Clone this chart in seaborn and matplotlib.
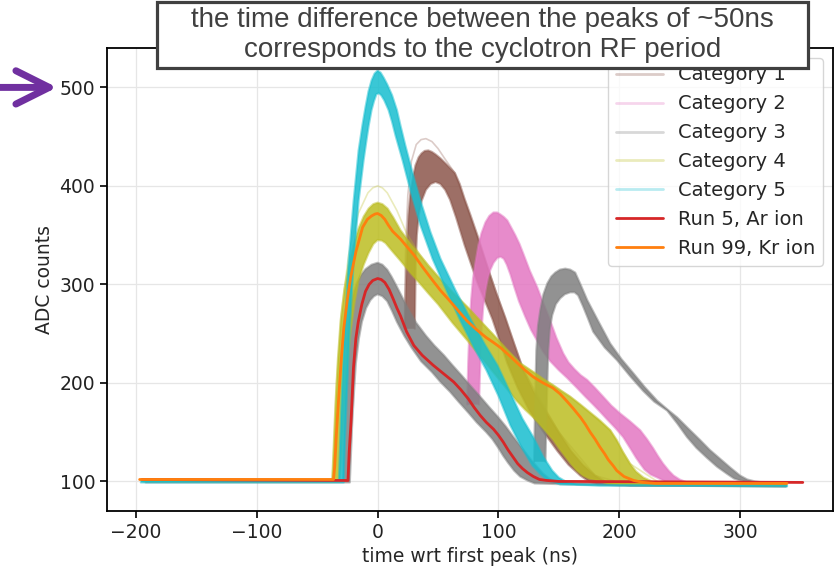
import numpy as np
import matplotlib
matplotlib.use("Agg")
import matplotlib.pyplot as plt
from matplotlib.patches import Rectangle
from matplotlib.lines import Line2D
import seaborn as sns

# ---------------------------------------------------------------
# Waveform bundles: each category is a band of many traces, given
# by its upper/outer and lower/inner envelope (time in ns wrt the
# first peak, amplitude in ADC counts). Later buckets are recorded
# from partway up their rising edge.
# ---------------------------------------------------------------
cat1_hi_t = [22.6, 23.1, 24.3, 25.5, 27.3, 29.5, 31.4, 34, 36.4, 39, 42, 45, 48, 52, 57, 64,
             68, 72, 77, 82.6, 90.9, 98, 105.8, 113, 120.7, 129, 138.8, 150, 160.3, 170,
             180, 190, 200, 209, 338]
cat1_hi = [255, 284, 340, 370, 395, 410, 421, 429, 433, 435.5, 436, 434.5, 432, 428, 422, 413,
           402, 387, 370, 350, 318, 292, 266, 240, 213, 192, 172, 150, 131, 117,
           106, 99, 97, 96, 96]
cat1_lo_t = [30.8, 31, 31.5, 32.5, 34, 36.5, 40, 44, 48, 52, 56, 60, 65, 72, 82.6, 95, 107.4,
             116, 125.6, 137, 148.8, 158, 167.8, 175, 182, 200, 338]
cat1_lo = [255, 270, 320, 350, 370, 385, 396, 402, 404, 402, 396, 386, 368, 340, 302, 265, 220,
           195, 172, 151, 131, 117, 106, 100, 97, 96, 95]
# a single high-amplitude category-1 trace above the bundle
cat1_outlier_t = [22.2, 23, 25, 28, 32, 36, 40, 45, 50, 56, 64, 90.9, 120.7, 150, 180, 209, 338]
cat1_outlier = [255, 330, 390, 425, 442, 447, 448, 445, 438, 427, 413, 318, 213, 150, 106, 96, 96]

cat2_hi_t = [74.2, 75, 76, 77.5, 79, 81, 83.5, 86, 89.3, 92.5, 95.9, 99, 101.7, 104.5, 107.4,
             110.5, 114, 117.5, 120.7, 126, 132.2, 137.5, 143, 148, 153.7, 158, 163, 168,
             173.6, 180, 186.8, 193.5, 200.8, 209, 217.4, 223, 228, 232, 236.4, 241, 245,
             250, 256, 267, 338]
cat2_hi = [178, 220, 253, 285, 306, 322, 340, 352, 363, 369.5, 373, 373, 371, 368.5, 365,
           358, 350, 341, 331, 314, 297, 280, 263, 246, 230, 221, 214, 208,
           203, 195, 186, 177, 169, 161, 152, 143, 134, 126, 118, 111, 106,
           102, 99, 97, 96]
cat2_lo_t = [84, 84.5, 85.3, 86, 87.5, 89.3, 91.2, 93.4, 96, 99.2, 102, 104.5, 107, 110, 113,
             117, 122, 127, 132, 137, 143, 150, 157, 165, 172, 178.5, 184, 190, 197, 203.3,
             210, 214, 217.4, 221, 226, 231.4, 238, 246, 338]
cat2_lo = [178, 200, 230, 253, 278, 294, 306, 315, 322, 327, 328, 326, 320, 310, 298,
           283, 268, 254, 243, 232, 222, 213, 205, 195, 186, 178, 171, 163, 154, 145,
           132, 124, 118, 112, 107, 104, 100, 98, 97]

# category 3 shows up in two time buckets
cat3a_hi_t = [-192, -28.8, -28, -27, -25, -23.5, -22, -19.5, -17, -13.5, -10, -5, 0, 4, 8,
              11.5, 15, 20, 25, 32, 40, 47, 55, 62, 70, 77, 85, 92, 100, 106, 112, 117,
              122, 127, 132, 137, 142, 147, 152, 165, 338]
cat3a_hi = [101, 101, 140, 180, 240, 265, 280, 293, 302, 310, 315.5, 320, 322, 320, 315,
            308, 300, 288, 276, 261, 248, 238, 228, 218, 207, 197, 186, 176, 165, 156, 146, 138,
            130, 122, 115, 108, 103, 100, 99, 98, 97]
cat3a_lo_t = [-192, -23, -22, -21, -19.5, -18, -15.5, -13, -9.5, -6, -3, 0, 4, 8, 12, 16,
              22, 28, 36, 45, 52, 60, 67, 75, 82, 90, 95, 100, 104, 108, 113, 118, 124,
              130, 160, 338]
cat3a_lo = [99, 99, 130, 160, 192, 220, 245, 262, 276, 284, 288, 290, 288, 283, 273, 262,
            248, 236, 222, 211, 201, 191, 181, 170, 160, 150, 143, 134, 126, 119, 111, 105, 101,
            98, 97, 95]

cat3b_hi_t = [129.5, 130, 130.6, 131.4, 132.8, 134.7, 137.3, 140.5, 143.8, 147.1, 151, 155.4,
              159.5, 163.6, 168, 173.6, 183, 192.6, 202, 211.6, 221, 231.4, 240, 248, 257,
              267, 275, 283.5, 292, 300, 306, 312.4, 325, 338]
cat3b_hi = [120, 150, 190, 233, 258, 274, 290, 301, 308, 312, 315, 316,
            315, 312, 300, 284, 262, 240, 224, 210, 196, 182, 173, 165, 154,
            142, 132, 123, 114, 106, 102, 100, 98, 97]
cat3b_lo_t = [139, 139.5, 140.3, 141.3, 142.6, 144.6, 147.6, 151.2, 155, 159.5, 163, 166, 170,
              174, 178.5, 188, 198.3, 209, 219.8, 229, 239.7, 248, 256.2, 264, 272.7, 281,
              289, 295, 300, 315, 338]
cat3b_lo = [120, 150, 190, 233, 255, 269, 280, 286, 290, 292, 292, 289, 278,
            266, 252, 236, 223, 207, 192, 181, 172, 159, 145, 134, 124, 115,
            108, 103, 101, 98, 97]

cat4_hi_t = [-194, -37.5, -36.5, -35.5, -34.7, -32.8, -30.6, -27.5, -24, -20, -15.7, -11.5,
             -7.4, -3.5, 0, 4, 8.3, 13, 19, 27, 35, 42, 50, 62, 74.4, 85, 95, 106, 118, 129,
             137, 145, 152, 159.5, 168, 176, 184, 192.6, 198, 203, 209, 214, 220, 227, 234,
             338]
cat4_hi = [102, 102, 130, 160, 182, 225, 263, 295, 319, 340, 357, 369,
           377, 381.5, 383, 381.5, 377, 368, 355, 342, 330, 319, 308, 292, 277, 263, 250, 235,
           220, 211, 204, 198, 192, 186, 178, 170, 162, 152, 142, 130, 118, 110, 104, 100, 98,
           97]
cat4_lo_t = [-194, -31.5, -30, -28.5, -27.3, -24.8, -22.3, -19, -15.7, -11.5, -7.4, -3.5, 0,
             3.5, 6.6, 12, 19, 27, 35, 42, 50, 62, 74.4, 85, 95, 105, 115, 122, 129, 137,
             145.5, 150, 155, 160, 165, 170, 175, 182, 190, 201, 338]
cat4_lo = [100, 100, 120, 155, 182, 222, 253, 282, 304, 320, 332, 341, 345,
           344.5, 342, 334, 324, 312, 301, 291, 280, 261, 243, 227, 212, 197, 182, 173, 165,
           154, 142, 134, 126, 118, 111, 106, 103, 101, 98, 97, 96]
# a single high-amplitude category-4 trace
cat4_outlier_t = [-194, -37.5, -36, -34, -30, -24, -16, -8, -4, 0, 4, 8, 16, 24, 35, 50, 74.4,
                  118, 159.5, 192.6, 209, 234, 338]
cat4_outlier = [102, 102, 140, 200, 270, 330, 372, 393, 398, 400, 398, 393, 375, 352, 330, 308,
                277, 220, 186, 152, 118, 98, 97]

cat5_hi_t = [-196, -32, -31, -29.8, -27.3, -24, -19.8, -15.7, -12.5, -10, -7.5, -5, -2.5, 0,
             2.5, 5, 8, 12, 16, 19, 23, 27.3, 31.5, 35.5, 43.8, 52.1, 64.5, 76.9, 89.3, 99.2,
             109.9, 119.8, 128.9, 137.2, 144.6, 150, 157, 165, 184, 339]
cat5_hi = [101, 101, 140, 182, 253, 324, 385, 436, 462, 480, 496, 507, 514, 517,
           515, 510, 503, 492, 477, 461, 441, 421, 402, 385, 353, 326, 294, 265, 238, 218,
           190, 164, 145, 125, 111, 104, 99, 97, 96, 96]
cat5_lo_t = [-196, -28, -27, -25.6, -23.1, -19.8, -15.7, -11.6, -9, -7.4, -5, -3, -1, 1, 3,
             5.5, 9.1, 12, 14.9, 20.7, 27.3, 35.5, 45.5, 57, 68.6, 80.2, 90.1, 100, 109.9,
             119, 128.1, 135, 140, 151.2, 184, 339]
cat5_lo = [99, 99, 140, 182, 253, 324, 385, 426, 448, 461, 477, 486, 493, 494, 492,
           487, 477, 465, 451, 426, 395, 360, 326, 294, 263, 235, 213, 187, 157,
           135, 116, 107, 102, 97, 96, 95]

# Single reference waveforms
run5_t = [-195, -30, -24.5, -23.5, -22, -20, -18, -16, -13, -10, -7, -4, 0, 3, 6, 9.5, 13,
          16, 19, 24, 30, 37, 46, 54, 63, 69, 75, 80, 85, 90, 96, 100, 104, 108, 112, 116,
          120, 124, 129, 134, 140, 150, 160, 352]
run5_adc = [102, 101, 101, 130, 160, 215, 245, 262, 280, 293, 300, 304, 306, 305, 302, 295,
            285, 276, 268, 252, 238, 228, 218, 210, 201, 193, 184, 175, 167, 160, 153, 147,
            140, 132, 125, 118, 113, 109, 105, 102, 101, 100, 100, 99]

run99_t = [-197, -36.5, -35.5, -34, -32, -30, -28, -25, -22.3, -18, -12.4, -8.5, -5, -2, 0,
           3, 6, 9, 12.4, 19, 30, 37, 45, 52, 60, 67, 74, 82, 90, 96, 101.6, 108, 115, 122,
           129, 137, 145, 151, 157, 162, 168, 172, 176, 180, 184, 188, 191, 195, 198, 204,
           212, 220, 230, 339]
run99_adc = [102, 102, 115, 150, 189, 225, 255, 285, 307, 333, 358, 366, 369.5, 371.5, 372,
             370, 366, 360, 354, 346, 330, 318, 305, 294, 283, 273, 263, 254, 246, 241, 236,
             229, 221, 213, 206, 200, 195, 189, 181, 174, 165, 158, 150, 143, 135, 128, 122,
             116, 111, 105, 101, 99, 98, 98]

category_labels = ["Category 1", "Category 2", "Category 3", "Category 4", "Category 5"]
run_labels = ["Run 5, Ar ion", "Run 99, Kr ion"]
x_ticks = [-200, -100, 0, 100, 200, 300]
y_ticks = [100, 200, 300, 400, 500]

# ---------------------------------------------------------------
sns.set_style("whitegrid")
plt.rcParams.update({
    "font.family": ["DejaVu Sans"],
    "axes.edgecolor": "black",
    "axes.linewidth": 1.3,
    "grid.color": "#e6e6e6",
    "grid.linewidth": 0.9,
    "xtick.bottom": True,
    "ytick.left": True,
    "xtick.color": "black",
    "ytick.color": "black",
    "xtick.labelcolor": "#222222",
    "ytick.labelcolor": "#222222",
    "xtick.major.size": 5,
    "ytick.major.size": 5,
    "xtick.major.width": 1.2,
    "ytick.major.width": 1.2,
})

colors = {1: "tab:brown", 2: "tab:pink", 3: "tab:gray", 4: "tab:olive", 5: "tab:cyan"}

fig = plt.figure(figsize=(8.39, 5.71), dpi=100)
ax = fig.add_axes([107 / 839, 1 - 511 / 571, (833 - 107) / 839, (511 - 48) / 571])

bundles = [
    (cat1_hi_t, cat1_hi, cat1_lo_t, cat1_lo, colors[1], (cat1_outlier_t, cat1_outlier)),
    (cat2_hi_t, cat2_hi, cat2_lo_t, cat2_lo, colors[2], None),
    (cat3a_hi_t, cat3a_hi, cat3a_lo_t, cat3a_lo, colors[3], None),
    (cat3b_hi_t, cat3b_hi, cat3b_lo_t, cat3b_lo, colors[3], None),
    (cat4_hi_t, cat4_hi, cat4_lo_t, cat4_lo, colors[4], (cat4_outlier_t, cat4_outlier)),
    (cat5_hi_t, cat5_hi, cat5_lo_t, cat5_lo, colors[5], None),
]

for i, (ht, hv, lt, lv, c, extra) in enumerate(bundles):
    z = 2 + i
    if extra is not None:
        ax.plot(extra[0], extra[1], color=c, lw=1.2, alpha=0.3, zorder=z)
    px = np.r_[ht, lt[::-1]]
    py = np.r_[hv, lv[::-1]]
    ax.fill(px, py, color=c, alpha=0.85, lw=0, zorder=z)
    ax.plot(ht, hv, color=c, lw=1.6, alpha=0.5, zorder=z, solid_joinstyle="round")
    ax.plot(lt, lv, color=c, lw=1.6, alpha=0.5, zorder=z, solid_joinstyle="round")

sns.lineplot(x=run5_t, y=run5_adc, color="tab:red", lw=2, ax=ax,
             estimator=None, sort=False, zorder=10)
sns.lineplot(x=run99_t, y=run99_adc, color="tab:orange", lw=2, ax=ax,
             estimator=None, sort=False, zorder=11)

ax.set_xlim(-224, 377)
ax.set_ylim(70, 540)
ax.set_xticks(x_ticks)
ax.set_yticks(y_ticks)
ax.tick_params(labelsize=13.5)
ax.set_xlabel("time wrt first peak (ns)", fontsize=13.5)
ax.set_ylabel("ADC counts", fontsize=13.5)
ax.grid(True)

handles = [Line2D([], [], color=colors[k], alpha=0.3, lw=2) for k in range(1, 6)]
handles += [Line2D([], [], color="tab:red", lw=2), Line2D([], [], color="tab:orange", lw=2)]
leg = ax.legend(handles, category_labels + run_labels, loc="upper right", fontsize=14,
                frameon=True, framealpha=0.8, edgecolor="#cccccc", fancybox=True,
                handlelength=2.4, labelspacing=0.51, borderpad=0.4)
leg.set_zorder(20)

# annotation box across the top
box = Rectangle((157 / 839, 1 - 68 / 571), (808 - 157) / 839, 66 / 571,
                transform=fig.transFigure, facecolor="white", edgecolor="#404040",
                lw=2.3, zorder=30)
fig.add_artist(box)
fig.text(482.5 / 839, 1 - 35 / 571,
         "the time difference between the peaks of ~50ns\ncorresponds to the cyclotron RF period",
         ha="center", va="center", fontsize=20, family=["Liberation Sans"],
         color="#404040", linespacing=1.2, zorder=31)

# arrow pointing at the 500-count level
ax.annotate("", xy=(57, 500), xycoords=("figure pixels", "data"),
            xytext=(0, 500), textcoords=("figure pixels", "data"),
            arrowprops=dict(arrowstyle="->,head_length=1.2,head_width=0.6",
                            color="#7030A0", lw=5, mutation_scale=20,
                            shrinkA=0, shrinkB=0),
            annotation_clip=False)

fig.savefig("out.png", dpi=100)
